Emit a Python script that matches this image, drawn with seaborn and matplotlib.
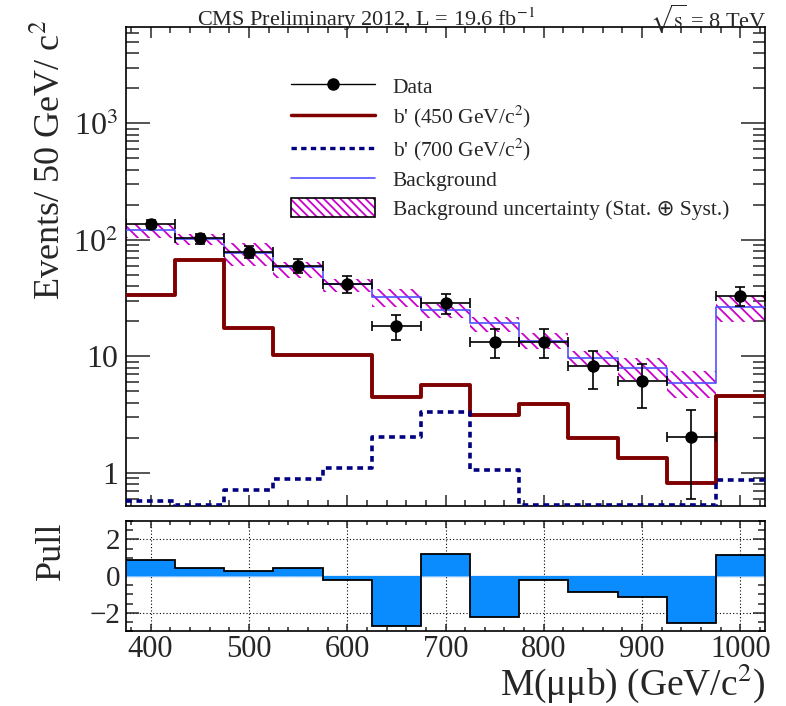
import numpy as np
import pandas as pd
import matplotlib
matplotlib.use("Agg")
import matplotlib.pyplot as plt
from matplotlib.lines import Line2D
from matplotlib.patches import Patch
from matplotlib.ticker import MultipleLocator, FixedLocator, FixedFormatter, LogLocator, NullFormatter
import seaborn as sns

# ---------------- data ----------------
bin_edges = [375, 425, 475, 525, 575, 625, 675, 725, 775, 825, 875, 925, 975, 1025]
bin_centers = [400, 450, 500, 550, 600, 650, 700, 750, 800, 850, 900, 950, 1000]

data_counts = [137, 103, 79, 60, 41.7, 18.3, 28.6, 13.2, 13.2, 8.2, 6.1, 2.04, 33.2]
data_err_lo = [11.5, 10.0, 8.8, 7.7, 6.4, 4.4, 5.3, 3.6, 3.6, 2.9, 2.5, 1.44, 6.0]
data_err_hi = [12.5, 10.5, 9.4, 8.3, 7.0, 4.5, 5.6, 3.9, 3.9, 2.9, 2.5, 1.4, 6.3]

background = [122, 101, 77, 58, 41.7, 32.2, 25.1, 19.3, 13.6, 9.6, 8.0, 5.96, 26.4]
bkg_band_lo = [103, 90.5, 59.8, 47.5, 35.9, 26.8, 21.2, 16.3, 11.5, 8.2, 6.3, 4.37, 19.9]
bkg_band_hi = [137, 112, 93.7, 65, 46.3, 37.9, 28.3, 22.0, 15.8, 11.2, 9.6, 7.5, 33.0]

bprime_450 = [33.5, 67.3, 17.7, 10.2, 10.2, 4.52, 5.7, 3.15, 3.91, 2.01, 1.35, 0.826, 4.58]
bprime_700 = [0.575, 0.53, 0.71, 0.888, 1.11, 2.05, 3.32, 1.05, 0.53, 0.53, 0.53, 0.53, 0.87]

pull = [0.85, 0.46, 0.25, 0.46, -0.2, -2.7, 1.21, -2.22, -0.2, -0.89, -1.16, -2.58, 1.12]

legend_labels = ["Data", "b' (450 GeV/c$^{2}$)", "b' (700 GeV/c$^{2}$)", "Background",
                 "Background uncertainty (Stat. \u2295 Syst.)"]
title_left = "CMS Preliminary 2012, L = 19.6 fb$^{-1}$"
title_right = "$\\sqrt{\\mathrm{s}}$ = 8 TeV"
ylabel_top = "Events/ 50 GeV/ c$^{2}$"
ylabel_bottom = "Pull"
xlabel = "M(\u03bc\u03bcb) (GeV/c$^{2}$)"

# ---------------- style ----------------
sns.set_theme(style="white")
plt.rcParams["font.family"] = ["Liberation Serif", "DejaVu Sans"]
plt.rcParams["mathtext.fontset"] = "stix"
plt.rcParams["hatch.linewidth"] = 1.3
plt.rcParams["axes.linewidth"] = 1.2
plt.rcParams["axes.edgecolor"] = "black"

RED = "#800000"
NAVY = "#000080"
BLUE = "#5050ff"
MAG = "#cc00cc"
PULLC = "#0a8cff"

fig = plt.figure(figsize=(7.86, 7.06), dpi=100)
ax = fig.add_axes([0.1603, 0.2833, 0.813, 0.6785])
axp = fig.add_axes([0.1603, 0.1062, 0.813, 0.1558])

ax.set_yscale("log")

edges = np.array(bin_edges, dtype=float)
df = pd.DataFrame({"x": bin_centers, "bkg": background, "b450": bprime_450, "b700": bprime_700,
                   "data": data_counts})

# background uncertainty band (hatched)
ax.stairs(bkg_band_hi, edges, baseline=bkg_band_lo, fill=True, facecolor="none",
          edgecolor=MAG, hatch="\\\\\\", linewidth=0, zorder=2)

# step histograms via seaborn
sns.histplot(data=df, x="x", weights="bkg", bins=list(bin_edges), element="step", fill=False,
             color=BLUE, linewidth=1.2, ax=ax, zorder=3)
sns.histplot(data=df, x="x", weights="b450", bins=list(bin_edges), element="step", fill=False,
             color=RED, linewidth=2.8, ax=ax, zorder=4)
sns.histplot(data=df, x="x", weights="b700", bins=list(bin_edges), element="step", fill=False,
             color=NAVY, linewidth=2.6, linestyle=(0, (1.6, 1.3)), ax=ax, zorder=4)

# data points with error bars
ax.errorbar(bin_centers, data_counts, yerr=[data_err_lo, data_err_hi], xerr=25,
            fmt="none", ecolor="black", elinewidth=1.2, capsize=3.5, capthick=1.2, zorder=5)
sns.scatterplot(data=df, x="x", y="data", color="black", s=80, edgecolor="black",
                linewidth=0, ax=ax, zorder=6, legend=False)

ax.set_xlim(375, 1025)
ax.set_ylim(0.52, 6730)
ax.set_xlabel("")
ax.set_ylabel(ylabel_top, fontsize=26, loc="top")
ax.yaxis.set_major_locator(FixedLocator([1, 10, 100, 1000]))
ax.yaxis.set_major_formatter(FixedFormatter(["1", "10", "10$^{2}$", "10$^{3}$"]))
ax.yaxis.set_minor_locator(LogLocator(base=10, subs=np.arange(2, 10), numticks=20))
ax.yaxis.set_minor_formatter(NullFormatter())
ax.xaxis.set_major_locator(MultipleLocator(100))
ax.xaxis.set_minor_locator(MultipleLocator(20))
ax.tick_params(axis="x", which="both", direction="in", top=True, bottom=True, labelbottom=False)
ax.tick_params(axis="x", which="major", length=8, width=1.1)
ax.tick_params(axis="x", which="minor", length=4, width=1.1)
ax.tick_params(axis="y", which="both", direction="in", left=True, right=True, labelsize=23, pad=6)
ax.tick_params(axis="y", which="major", length=17, width=1.1)
ax.tick_params(axis="y", which="minor", length=9, width=1.1)

band_hatch = Patch(facecolor="white", edgecolor=MAG, hatch="\\\\\\\\", linewidth=0)
band_frame = Patch(facecolor="none", edgecolor="black", linewidth=1.2)
handles = [
    Line2D([], [], color="black", lw=1.0, marker="o", markersize=8),
    Line2D([], [], color=RED, lw=2.5),
    Line2D([], [], color=NAVY, lw=2.4, linestyle=(0, (1.6, 1.3))),
    Line2D([], [], color=BLUE, lw=1.2),
    (band_hatch, band_frame),
]
leg = ax.legend(handles, legend_labels, loc="upper left", bbox_to_anchor=(0.234, 0.93),
                frameon=False, fontsize=15.5, handlelength=3.9, handleheight=1.0,
                labelspacing=0.3, handletextpad=0.85, borderpad=0.2)

fig.text(0.251, 0.973, title_left, fontsize=16, ha="left", va="center")
fig.text(0.975, 0.973, title_right, fontsize=16, ha="right", va="center")

# ---------------- pull panel ----------------
axp.axhline(0, color="#7fbfff", lw=1, zorder=1)
axp.stairs(pull, edges, baseline=0, fill=True, facecolor=PULLC, edgecolor="none", zorder=2)
axp.stairs(pull, edges, baseline=None, color="black", lw=1.3, zorder=3)
axp.set_xlim(375, 1025)
axp.set_ylim(-3, 3)
axp.xaxis.set_major_locator(MultipleLocator(100))
axp.xaxis.set_minor_locator(MultipleLocator(20))
axp.yaxis.set_major_locator(FixedLocator([-2, 0, 2]))
axp.yaxis.set_minor_locator(MultipleLocator(0.5))
axp.grid(True, which="major", color="black", linestyle=(0, (1, 2)), linewidth=0.8, zorder=0)
axp.set_axisbelow(True)
axp.tick_params(axis="both", which="both", direction="in", top=True, right=True, bottom=True, left=True)
axp.tick_params(axis="x", which="major", length=5, width=1.1, labelsize=22, pad=3)
axp.tick_params(axis="x", which="minor", length=3, width=1.1)
axp.tick_params(axis="y", which="major", length=9, width=1.1, labelsize=21, pad=4)
axp.tick_params(axis="y", which="minor", length=5, width=1.1)
axp.set_ylabel(ylabel_bottom, fontsize=26, loc="top")
axp.set_xlabel(xlabel, fontsize=27, loc="right", labelpad=-2)

ax.yaxis.set_label_coords(-0.09, 1.015)
axp.yaxis.set_label_coords(-0.09, 1.0)

fig.savefig("out.png", dpi=100)
